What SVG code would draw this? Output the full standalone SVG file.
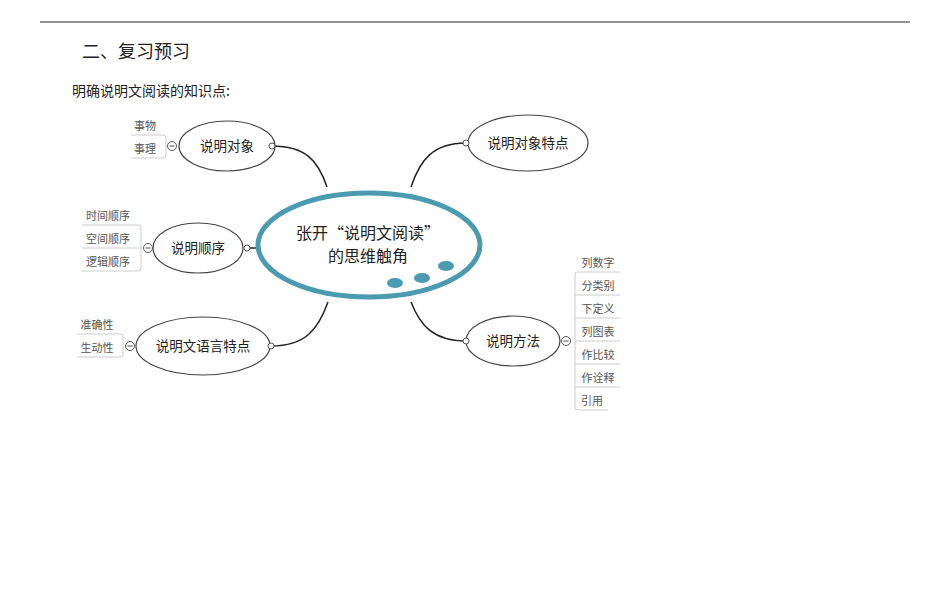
<svg xmlns="http://www.w3.org/2000/svg" width="950" height="594" viewBox="0 0 950 594">
<style>
text{font-family:"Noto Sans CJK SC","Liberation Sans",sans-serif;fill:#222}
.n{fill:#fff;stroke:#444;stroke-width:1.2}
.nt{font-size:13.5px;text-anchor:middle}
.lf{font-size:11px;fill:#555;text-anchor:middle}
.ll{fill:none;stroke:#ccc;stroke-width:1}
.c{fill:none;stroke:#222;stroke-width:1.5}
.d{fill:#fff;stroke:#555;stroke-width:1}
</style>
<rect width="950" height="594" fill="#fff"/>
<line x1="40" y1="22" x2="910" y2="22" stroke="#222" stroke-width="1"/>
<text x="82" y="58" font-size="18" font-family="'Noto Sans CJK SC',sans-serif">二、复习预习</text>
<text x="72" y="96" font-size="14" font-family="'Noto Serif CJK SC','Noto Sans CJK SC',serif">明确说明文阅读的知识点:</text>
<g id="connectors">
<path class="c" d="M272,146 C305,146 318,160 327,187"/>
<path class="c" d="M466,143 C433,143 420,160 411,187"/>
<path class="c" d="M247,248 L259,248"/>
<path class="c" d="M271,346 C305,346 318,330 328,302"/>
<path class="c" d="M466,341 C433,341 420,325 411,302"/>
</g>
<g id="center">
<ellipse cx="369" cy="245" rx="111" ry="52" fill="#fff" stroke="#4a9bb0" stroke-width="5"/>
<ellipse cx="395" cy="283" rx="8" ry="5" fill="#4a9bb0"/>
<ellipse cx="422" cy="278" rx="8" ry="5" fill="#4a9bb0"/>
<ellipse cx="446" cy="266" rx="8" ry="5" fill="#4a9bb0"/>
<text x="368" y="239" font-size="16" text-anchor="middle">张开“说明文阅读”</text>
<text x="368" y="262" font-size="16" text-anchor="middle">的思维触角</text>
</g>
<g id="n1">
<ellipse class="n" cx="227" cy="146" rx="48" ry="25"/>
<text class="nt" x="227" y="151">说明对象</text>
<circle class="d" cx="272" cy="146" r="3"/>
<circle class="d" cx="172" cy="146" r="4.5"/><line x1="169.5" y1="146" x2="174.5" y2="146" stroke="#555"/>
<path class="ll" d="M131,135 H163 Q166,135 166,138 V155 Q166,158 163,158 H131"/>
<text class="lf" x="145" y="130">事物</text>
<text class="lf" x="145" y="153">事理</text>
</g>
<g id="n2">
<ellipse class="n" cx="528" cy="143" rx="60" ry="28"/>
<text class="nt" x="528" y="148">说明对象特点</text>
<circle class="d" cx="466" cy="143" r="3"/>
</g>
<g id="n3">
<ellipse class="n" cx="198" cy="248" rx="45" ry="25"/>
<text class="nt" x="198" y="253">说明顺序</text>
<circle class="d" cx="247" cy="248" r="3"/>
<circle class="d" cx="148" cy="248" r="4.5"/><line x1="145.5" y1="248" x2="150.5" y2="248" stroke="#555"/>
<path class="ll" d="M82,225 H138 Q141,225 141,228 V268 Q141,271 138,271 H82 M82,248 H141"/>
<text class="lf" x="108" y="220">时间顺序</text>
<text class="lf" x="108" y="243">空间顺序</text>
<text class="lf" x="108" y="266">逻辑顺序</text>
</g>
<g id="n4">
<ellipse class="n" cx="203" cy="346" rx="67" ry="29"/>
<text class="nt" x="203" y="351">说明文语言特点</text>
<circle class="d" cx="271" cy="346" r="3"/>
<circle class="d" cx="130" cy="346" r="4.5"/><line x1="127.5" y1="346" x2="132.5" y2="346" stroke="#555"/>
<path class="ll" d="M77,334 H120 Q123,334 123,337 V354 Q123,357 120,357 H77"/>
<text class="lf" x="97" y="329">准确性</text>
<text class="lf" x="97" y="352">生动性</text>
</g>
<g id="n5">
<ellipse class="n" cx="513" cy="341" rx="47" ry="25"/>
<text class="nt" x="513" y="346">说明方法</text>
<circle class="d" cx="466" cy="341" r="3"/>
<circle class="d" cx="566" cy="341" r="4.5"/><line x1="563.5" y1="341" x2="568.5" y2="341" stroke="#555"/>
<path class="ll" d="M620,272 H577 Q575,272 575,275 V407 Q575,410 578,410 H608 M575,295 H620 M575,318 H620 M575,341 H620 M575,364 H620 M575,387 H620"/>
<text class="lf" x="598" y="267">列数字</text>
<text class="lf" x="598" y="290">分类别</text>
<text class="lf" x="598" y="313">下定义</text>
<text class="lf" x="598" y="336">列图表</text>
<text class="lf" x="598" y="359">作比较</text>
<text class="lf" x="598" y="382">作诠释</text>
<text class="lf" x="592" y="405">引用</text>
</g>
</svg>
